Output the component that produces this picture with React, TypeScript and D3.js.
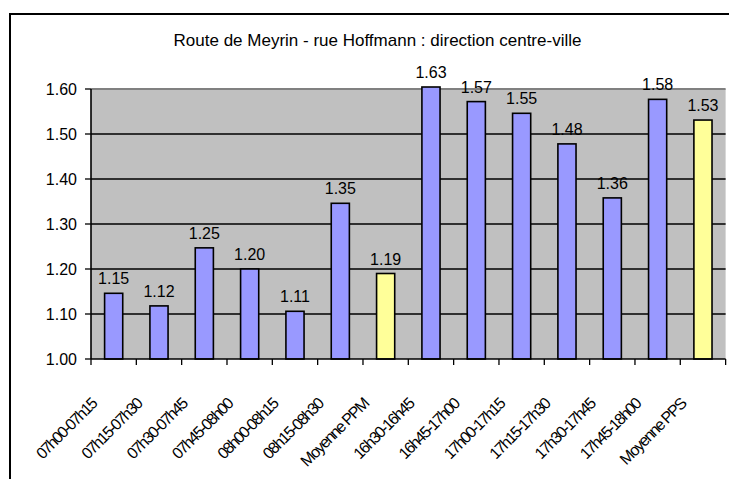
import React from 'react';
import * as d3 from 'd3';

const categories = [
  '07h00-07h15', '07h15-07h30', '07h30-07h45', '07h45-08h00', '08h00-08h15', '08h15-08h30',
  'Moyenne PPM',
  '16h30-16h45', '16h45-17h00', '17h00-17h15', '17h15-17h30', '17h30-17h45', '17h45-18h00',
  'Moyenne PPS',
];
const values = [1.146, 1.118, 1.247, 1.2, 1.106, 1.346, 1.19, 1.63, 1.572, 1.546, 1.478, 1.358, 1.577, 1.531];
const isAverage = [false, false, false, false, false, false, true, false, false, false, false, false, false, true];
const yTicks = [1.0, 1.1, 1.2, 1.3, 1.4, 1.5, 1.6];
const title = 'Route de Meyrin - rue Hoffmann : direction centre-ville';

const W = 729;
const H = 479;
const left = 91;
const top = 89;
const bottom = 359;
const band = 45.33;
const font = '"Liberation Sans", Arial, sans-serif';

const App = () => {
  const x = d3.scaleBand<string>()
    .domain(categories)
    .range([left, left + band * categories.length])
    .paddingInner(0.6)
    .paddingOuter(0.3);
  const y = d3.scaleLinear().domain([1.0, 1.6]).range([bottom, top]);
  const fmt = d3.format('.2f');
  const right = left + band * categories.length;

  return (
    <svg width={W} height={H} style={{ position: 'absolute', left: 0, top: 0 }} fontFamily={font}>
      <rect x={0} y={0} width={W} height={H} fill="#fff" />
      {/* chart frame, runs off the right and bottom of the picture */}
      <rect x={10} y={14} width={780} height={520} fill="#fff" stroke="#000" strokeWidth={2} />

      <text x={377.5} y={46} textAnchor="middle" fontSize={17} fill="#000">{title}</text>

      {/* plot area */}
      <rect x={left} y={top} width={right - left} height={bottom - top} fill="#c0c0c0" />
      <line x1={left} x2={right} y1={top} y2={top} stroke="#808080" strokeWidth={2} />
      {yTicks.slice(1, -1).map(t => (
        <line key={t} x1={left} x2={right} y1={y(t)} y2={y(t)} stroke="#000" strokeWidth={1.3} />
      ))}

      {/* bars */}
      {values.map((v, i) => {
        const yt = Math.max(y(v), top - 2);
        const bx = (x(categories[i]) as number);
        return (
          <g key={categories[i]}>
            <rect x={bx} y={yt} width={x.bandwidth()} height={bottom - yt}
              fill={isAverage[i] ? '#ffff99' : '#9999ff'} stroke="#000" strokeWidth={1.6} />
            <text x={bx + x.bandwidth() / 2} y={yt - 9} textAnchor="middle" fontSize={16} fill="#000">
              {fmt(v)}
            </text>
          </g>
        );
      })}

      {/* y axis */}
      <line x1={left} x2={left} y1={top} y2={bottom} stroke="#000" strokeWidth={1.6} />
      {yTicks.map(t => (
        <g key={t}>
          <line x1={left - 6} x2={left} y1={y(t)} y2={y(t)} stroke="#000" strokeWidth={1.3} />
          <text x={77} y={y(t)} dy="0.36em" textAnchor="end" fontSize={16} fill="#000">{fmt(t)}</text>
        </g>
      ))}

      {/* x axis */}
      <line x1={left} x2={right} y1={bottom} y2={bottom} stroke="#000" strokeWidth={1.6} />
      {d3.range(categories.length + 1).map(i => (
        <line key={i} x1={left + i * band} x2={left + i * band} y1={bottom} y2={bottom + 6}
          stroke="#000" strokeWidth={1.3} />
      ))}
      {categories.map(c => {
        const cx = (x(c) as number) + x.bandwidth() / 2 - 16;
        const cy = 405;
        return (
          <text key={c} x={cx} y={cy} transform={`rotate(-45 ${cx} ${cy})`} textAnchor="end"
            fontSize={16} letterSpacing={-1.5} fill="#000">
            {c}
          </text>
        );
      })}
    </svg>
  );
};

export default App;
